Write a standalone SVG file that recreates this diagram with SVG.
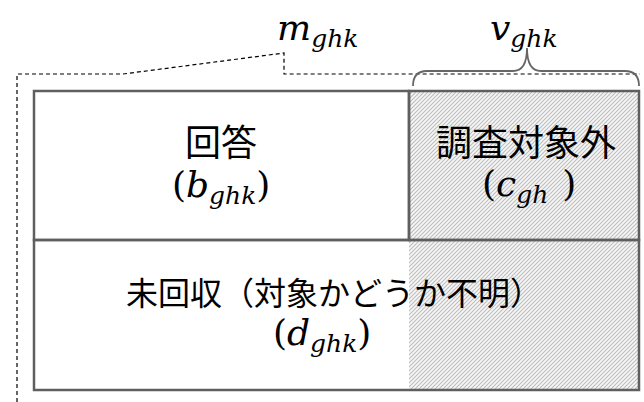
<svg xmlns="http://www.w3.org/2000/svg" width="644" height="402" viewBox="0 0 644 402">
<defs>
<pattern id="hatch" patternUnits="userSpaceOnUse" width="4" height="4">
<rect width="4" height="4" fill="#f7f7f7"/>
<path d="M-1,1 L1,-1 M0,4 L4,0 M3,5 L5,3" stroke="#bdbdbd" stroke-width="1.1"/>
</pattern>
</defs>
<style>
.jp{font-family:"Noto Sans CJK JP","Noto Sans",sans-serif;fill:#000;text-anchor:middle}
.mt{font-family:"DejaVu Serif","Liberation Serif",serif;font-style:italic;fill:#000}
.pr{font-family:"DejaVu Serif","Liberation Serif",serif;fill:#000}
.cell{stroke:#5f5f5f;stroke-width:2.5}
.dash{fill:none;stroke:#000;stroke-width:1.2;stroke-dasharray:4 3}
.brace{fill:none;stroke:#666;stroke-width:1.8}
</style>
<rect x="0" y="0" width="644" height="402" fill="#fff"/>
<g id="connectors">
<path class="dash" d="M17,402 L17,74 L123,74 L284,53 L284,74 L640,74"/>
<path class="brace" d="M413,86 Q413,71 427,71 L513,71 Q527,71 527,48 Q527,71 541,71 L625,71 Q639,71 639,86"/>
</g>
<g id="outer-frame">
<rect x="34" y="91" width="605" height="299" fill="#fff"/>
<rect x="409" y="91" width="230" height="299" fill="url(#hatch)"/>
</g>
<g id="cell-answer">
<rect class="cell" x="34" y="91" width="375" height="149" fill="none"/>
<text class="jp" x="221" y="156" font-size="36">回答</text>
<text x="172" y="197" font-size="36"><tspan class="pr">(</tspan><tspan class="mt">b</tspan><tspan class="mt" font-size="25" dy="7">ghk</tspan><tspan class="pr" dy="-7">)</tspan></text>
</g>
<g id="cell-out-of-scope">
<rect class="cell" x="409" y="91" width="230" height="149" fill="none"/>
<text class="jp" x="526" y="156" font-size="36">調査対象外</text>
<text x="482" y="196" font-size="36"><tspan class="pr">(</tspan><tspan class="mt">c</tspan><tspan class="mt" font-size="25" dy="7">gh</tspan><tspan class="pr" dy="-7" dx="14">)</tspan></text>
</g>
<g id="cell-unreturned">
<rect class="cell" x="34" y="240" width="605" height="150" fill="none"/>
<text class="jp" x="334" y="305" font-size="32">未回収（対象かどうか不明）</text>
<text x="273" y="345" font-size="36"><tspan class="pr">(</tspan><tspan class="mt">d</tspan><tspan class="mt" font-size="25" dy="7">ghk</tspan><tspan class="pr" dy="-7">)</tspan></text>
</g>
<g id="label-m">
<text x="277" y="40" font-size="36"><tspan class="mt">m</tspan><tspan class="mt" font-size="25" dy="7">ghk</tspan></text>
</g>
<g id="label-v">
<text x="490" y="40" font-size="36"><tspan class="mt">v</tspan><tspan class="mt" font-size="25" dy="7">ghk</tspan></text>
</g>
</svg>
